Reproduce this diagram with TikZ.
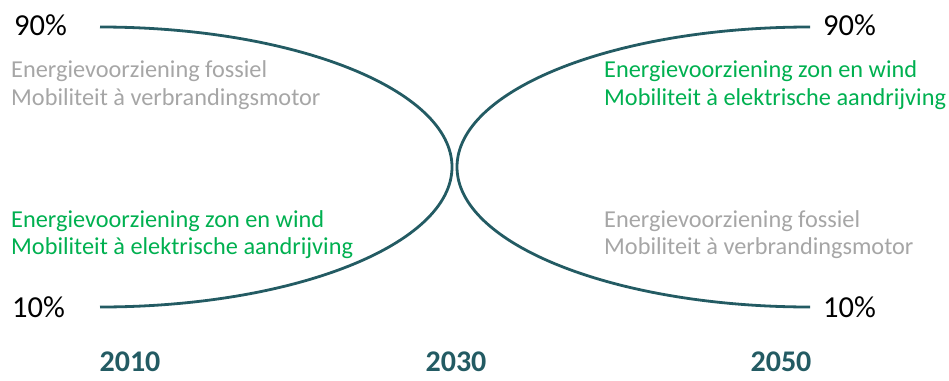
\documentclass[tikz,border=0pt]{standalone}
\usepackage{fontspec}
\setmainfont{Carlito}
\definecolor{teal}{HTML}{235B63}
\definecolor{lgray}{HTML}{A6A6A6}
\definecolor{lgreen}{HTML}{00B050}
\begin{document}
\begin{tikzpicture}[x=1pt,y=-1pt,
  curve/.style={draw=teal,line width=2.8pt},
  pct/.style={font=\fontsize{30.5}{27}\selectfont,text=black,inner sep=0pt},
  gtxt/.style={font=\fontsize{24.3}{27.5}\selectfont,text=lgray,align=left,anchor=west,inner sep=0pt},
  ntxt/.style={font=\fontsize{24.3}{27.5}\selectfont,text=lgreen,align=left,anchor=west,inner sep=0pt},
  year/.style={font=\fontsize{30}{27}\bfseries\selectfont,text=teal,inner sep=0pt}]
\useasboundingbox (0,0) rectangle (949,380);
\coordinate (Ltop) at (100,27);
\coordinate (Rtop) at (810,27);
\draw[curve] (Ltop) arc[start angle=-90,end angle=90,x radius=352,y radius=140];
\draw[curve] (Rtop) arc[start angle=-90,end angle=-270,x radius=353,y radius=140];
\node[pct,anchor=west] (p90l) at (14,25) {90\%};
\node[pct,anchor=west] (p10l) at (12,307) {10\%};
\node[pct,anchor=west] (p90r) at (823,25) {90\%};
\node[pct,anchor=west] (p10r) at (823,307) {10\%};
\node[gtxt] (gl) at (11,85) {Energievoorziening fossiel\\Mobiliteit à verbrandingsmotor};
\node[ntxt] (nl) at (11,234.5) {Energievoorziening zon en wind\\Mobiliteit à elektrische aandrijving};
\node[ntxt] (nr) at (604,85) {Energievoorziening zon en wind\\Mobiliteit à elektrische aandrijving};
\node[gtxt] (gr) at (604,234.5) {Energievoorziening fossiel\\Mobiliteit à verbrandingsmotor};
\node[year] (y1) at (130,362) {2010};
\node[year] (y2) at (456,362) {2030};
\node[year] (y3) at (781,362) {2050};
\end{tikzpicture}
\end{document}
